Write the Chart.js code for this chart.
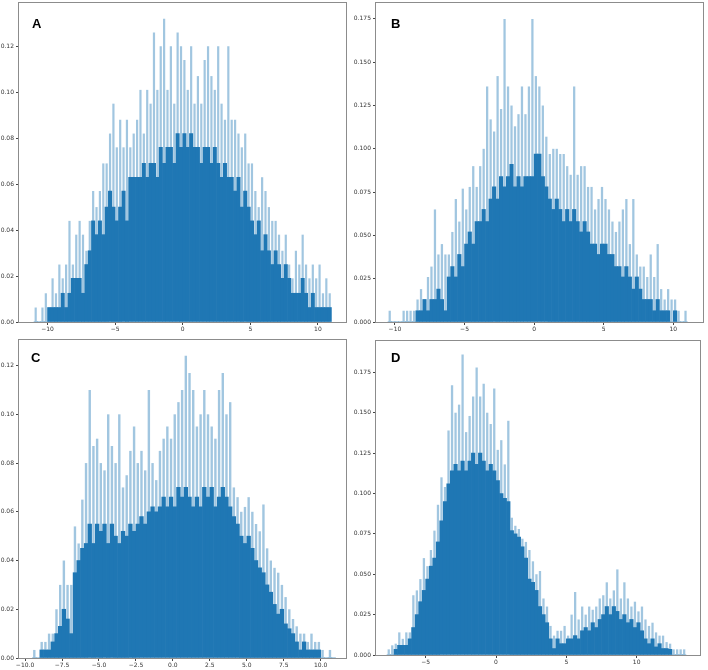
<!DOCTYPE html>
<html>
<head>
<meta charset="utf-8">
<title>Histograms A-D</title>
<script src="https://cdn.jsdelivr.net/npm/chart.js@4.4.1/dist/chart.umd.min.js"></script>
<style>
  html, body { margin: 0; padding: 0; background: #fff; }
  #wrap { position: relative; width: 708px; height: 670px; }
  #wrap canvas { position: absolute; left: 0; top: 0; }
</style>
</head>
<body>
<div id="wrap">
  <canvas id="chartA" width="708" height="670"></canvas>
  <canvas id="chartB" width="708" height="670"></canvas>
  <canvas id="chartC" width="708" height="670"></canvas>
  <canvas id="chartD" width="708" height="670"></canvas>
</div>
<script>
'use strict';

// bin width shared by all four panels
let binWidth = 0.25;

// panel A, first bin starts at -11.0
let startA = -11.0;
let bodyA = [0, 0, 0, 0, 0.0063, 0.0063, 0.0063, 0.0063, 0.0125, 0.0063,
    0.0125, 0.019, 0.019, 0.019, 0.0125, 0.025, 0.031, 0.044, 0.038, 0.044,
    0.038, 0.050, 0.057, 0.050, 0.044, 0.050, 0.057, 0.044, 0.063, 0.063,
    0.063, 0.063, 0.069, 0.063, 0.069, 0.069, 0.063, 0.076, 0.069, 0.076,
    0.076, 0.069, 0.082, 0.076, 0.082, 0.076, 0.082, 0.076, 0.076, 0.069,
    0.076, 0.076, 0.069, 0.076, 0.069, 0.063, 0.069, 0.063, 0.063, 0.057,
    0.063, 0.050, 0.057, 0.050, 0.044, 0.038, 0.044, 0.031, 0.038, 0.031,
    0.025, 0.031, 0.025, 0.019, 0.025, 0.019, 0.0125, 0.0125, 0.0125, 0.019,
    0.0125, 0.0063, 0.0125, 0.0063, 0.0063, 0.0063, 0.0063, 0.0063];
let spikeA = [0.0063, 0, 0.0063, 0.0125, 0.0063, 0.019, 0.0125, 0.025, 0.019, 0.025,
    0.044, 0.025, 0.038, 0.044, 0.038, 0.031, 0.044, 0.057, 0.050, 0.057,
    0.069, 0.069, 0.082, 0.095, 0.076, 0.088, 0.076, 0.088, 0.076, 0.082,
    0.088, 0.101, 0.082, 0.101, 0.095, 0.126, 0.101, 0.120, 0.132, 0.101,
    0.120, 0.095, 0.126, 0.120, 0.114, 0.101, 0.120, 0.095, 0.107, 0.095,
    0.114, 0.120, 0.107, 0.101, 0.120, 0.095, 0.088, 0.120, 0.088, 0.088,
    0.082, 0.076, 0.082, 0.069, 0.069, 0.057, 0.050, 0.063, 0.057, 0.050,
    0.044, 0.044, 0.038, 0.031, 0.038, 0.025, 0.019, 0.031, 0.025, 0.038,
    0.025, 0.019, 0.025, 0.019, 0.025, 0.0125, 0.019, 0.0125];
let xTicksA = [-10, -5, 0, 5, 10];
let yTicksA = [0, 0.02, 0.04, 0.06, 0.08, 0.10, 0.12];

// panel B, first bin starts at -10.5
let startB = -10.5;
let bodyB = [0, 0, 0, 0, 0, 0, 0, 0, 0.0065, 0.0065,
    0.013, 0.0065, 0.013, 0.013, 0.019, 0.013, 0.0065, 0.026, 0.032, 0.026,
    0.039, 0.032, 0.045, 0.052, 0.045, 0.058, 0.058, 0.065, 0.058, 0.071,
    0.078, 0.071, 0.084, 0.078, 0.084, 0.091, 0.078, 0.084, 0.078, 0.084,
    0.084, 0.084, 0.097, 0.097, 0.084, 0.078, 0.071, 0.065, 0.071, 0.065,
    0.058, 0.065, 0.058, 0.065, 0.058, 0.052, 0.058, 0.052, 0.045, 0.045,
    0.039, 0.045, 0.045, 0.039, 0.039, 0.032, 0.032, 0.026, 0.032, 0.026,
    0.019, 0.026, 0.019, 0.013, 0.013, 0.013, 0.0065, 0.013, 0.0065, 0.0065,
    0.0065, 0, 0.0065, 0, 0, 0];
let spikeB = [0.0065, 0, 0, 0, 0.0065, 0.0065, 0.0065, 0.0065, 0.013, 0.019,
    0.013, 0.026, 0.032, 0.065, 0.039, 0.045, 0.039, 0.039, 0.052, 0.071,
    0.058, 0.077, 0.065, 0.078, 0.090, 0.078, 0.090, 0.100, 0.136, 0.117,
    0.110, 0.142, 0.123, 0.175, 0.136, 0.125, 0.113, 0.120, 0.136, 0.120,
    0.136, 0.175, 0.142, 0.136, 0.125, 0.107, 0.097, 0.100, 0.100, 0.097,
    0.097, 0.090, 0.085, 0.136, 0.085, 0.090, 0.090, 0.078, 0.078, 0.065,
    0.071, 0.078, 0.071, 0.065, 0.058, 0.052, 0.058, 0.065, 0.071, 0.045,
    0.071, 0.039, 0.032, 0.032, 0.026, 0.039, 0.026, 0.045, 0.019, 0.013,
    0.019, 0.013, 0.013, 0.0065, 0, 0.0065];
let xTicksB = [-10, -5, 0, 5, 10];
let yTicksB = [0, 0.025, 0.05, 0.075, 0.1, 0.125, 0.15, 0.175];

// panel C, first bin starts at -9.5
let startC = -9.5;
let bodyC = [0, 0, 0.0033, 0.0033, 0.0033, 0.0066, 0.010, 0.013, 0.020, 0.016,
    0.010, 0.035, 0.040, 0.045, 0.047, 0.055, 0.047, 0.055, 0.052, 0.055,
    0.047, 0.055, 0.050, 0.047, 0.052, 0.050, 0.055, 0.052, 0.055, 0.058,
    0.055, 0.060, 0.062, 0.060, 0.062, 0.066, 0.062, 0.066, 0.062, 0.070,
    0.066, 0.070, 0.066, 0.062, 0.066, 0.062, 0.070, 0.066, 0.070, 0.062,
    0.066, 0.070, 0.066, 0.062, 0.058, 0.055, 0.050, 0.047, 0.050, 0.045,
    0.040, 0.037, 0.035, 0.030, 0.027, 0.022, 0.018, 0.020, 0.014, 0.012,
    0.010, 0.0066, 0.0033, 0.0066, 0.0033, 0.0033, 0.0033, 0.0033, 0, 0,
    0, 0];
let spikeC = [0.0033, 0, 0.0066, 0.0066, 0.010, 0.010, 0.020, 0.030, 0.040, 0.030,
    0.030, 0.054, 0.047, 0.065, 0.080, 0.110, 0.087, 0.090, 0.080, 0.077,
    0.100, 0.087, 0.080, 0.100, 0.070, 0.075, 0.085, 0.095, 0.080, 0.085,
    0.077, 0.110, 0.080, 0.073, 0.085, 0.090, 0.095, 0.090, 0.100, 0.105,
    0.110, 0.124, 0.117, 0.110, 0.095, 0.100, 0.110, 0.100, 0.095, 0.090,
    0.110, 0.117, 0.100, 0.105, 0.070, 0.066, 0.060, 0.062, 0.066, 0.060,
    0.055, 0.052, 0.063, 0.045, 0.040, 0.037, 0.035, 0.030, 0.025, 0.020,
    0.016, 0.013, 0.010, 0.010, 0.0066, 0.010, 0.0066, 0.0066, 0.0033, 0,
    0.0033, 0];
let xTicksC = [-10, -7.5, -5, -2.5, 0, 2.5, 5, 7.5, 10];
let yTicksC = [0, 0.02, 0.04, 0.06, 0.08, 0.10, 0.12];

// panel D, first bin starts at -7.75
let startD = -7.75;
let bodyD = [0, 0, 0.0035, 0.006, 0.006, 0.006, 0.010, 0.017, 0.025, 0.033,
    0.040, 0.047, 0.055, 0.060, 0.070, 0.083, 0.095, 0.106, 0.114, 0.118,
    0.114, 0.120, 0.114, 0.120, 0.125, 0.118, 0.125, 0.120, 0.114, 0.118,
    0.114, 0.108, 0.100, 0.097, 0.095, 0.077, 0.075, 0.073, 0.067, 0.060,
    0.047, 0.045, 0.040, 0.030, 0.025, 0.020, 0.010, 0.004, 0.010, 0.007,
    0.007, 0.010, 0.010, 0.012, 0.010, 0.015, 0.017, 0.015, 0.020, 0.017,
    0.022, 0.025, 0.030, 0.025, 0.030, 0.027, 0.022, 0.025, 0.020, 0.022,
    0.017, 0.020, 0.015, 0.010, 0.007, 0.010, 0.005, 0.007, 0.004, 0.004,
    0.0035, 0, 0, 0, 0];
let spikeD = [0.0035, 0.006, 0.007, 0.014, 0.010, 0.014, 0.014, 0.037, 0.040, 0.047,
    0.060, 0.055, 0.065, 0.077, 0.093, 0.110, 0.104, 0.139, 0.167, 0.150,
    0.155, 0.186, 0.138, 0.148, 0.160, 0.178, 0.160, 0.168, 0.150, 0.143,
    0.165, 0.127, 0.133, 0.118, 0.145, 0.085, 0.080, 0.078, 0.072, 0.070,
    0.065, 0.058, 0.050, 0.052, 0.035, 0.030, 0.018, 0.012, 0.015, 0.015,
    0.018, 0.012, 0.025, 0.039, 0.022, 0.030, 0.025, 0.030, 0.028, 0.030,
    0.035, 0.037, 0.045, 0.035, 0.040, 0.053, 0.035, 0.045, 0.035, 0.030,
    0.033, 0.027, 0.030, 0.022, 0.018, 0.020, 0.014, 0.012, 0.012, 0.008,
    0.007, 0.0035, 0.0035, 0.0035, 0.0035];
let xTicksD = [-5, 0, 5, 10];
let yTicksD = [0, 0.025, 0.05, 0.075, 0.1, 0.125, 0.15, 0.175];

Chart.defaults.font.family = '"DejaVu Sans", sans-serif';
Chart.defaults.font.size = 6;
Chart.defaults.color = '#333';

// frame round the plot area + the panel letter
let framePlugin = {
    id: 'frame',
    afterDraw(chart, args, opts) {
        let ctx = chart.ctx;
        let a = chart.chartArea;
        ctx.save();
        ctx.strokeStyle = '#8c8c8c';
        ctx.lineWidth = 1;
        ctx.strokeRect(a.left - 0.5, a.top - 0.5, a.right - a.left + 1, a.bottom - a.top + 1);
        ctx.fillStyle = '#000';
        ctx.font = 'bold 13px "Liberation Sans", Arial, sans-serif';
        ctx.textBaseline = 'alphabetic';
        ctx.fillText(opts.letter, a.left + opts.dx, a.top + opts.dy);
        ctx.restore();
    }
};

function fmt(v, digits) {
    let s = Math.abs(v).toFixed(digits);
    return (v < 0 ? '\u2212' : '') + s;
}

function toPoints(start, values) {
    let pts = [];
    for (let i = 0; i < values.length; i++) {
        pts.push({ x: start + binWidth * i + binWidth / 2, y: values[i] });
    }
    return pts;
}

function drawPanel(p) {
    let ctx = document.getElementById(p.id).getContext('2d');
    return new Chart(ctx, {
        type: 'bar',
        data: {
            datasets: [{
                data: toPoints(p.start, p.body),
                backgroundColor: '#1f77b4',
                borderWidth: 0,
                barPercentage: 1,
                categoryPercentage: 1,
                grouped: false,
                order: 0
            }, {
                data: toPoints(p.start, p.spike),
                backgroundColor: 'rgba(31, 119, 180, 0.42)',
                borderWidth: 0,
                barPercentage: 0.65,
                categoryPercentage: 1,
                grouped: false,
                order: 1
            }]
        },
        options: {
            responsive: false,
            animation: false,
            events: [],
            layout: {
                padding: {
                    left: p.area.left - p.yW,
                    top: p.area.top,
                    right: 708 - p.area.right,
                    bottom: 670 - p.area.bottom - p.xH
                }
            },
            plugins: {
                legend: { display: false },
                tooltip: { enabled: false },
                frame: { letter: p.letter, dx: p.dx, dy: p.dy }
            },
            scales: {
                x: {
                    type: 'linear',
                    min: p.xMin,
                    max: p.xMax,
                    offset: false,
                    grid: { display: true, drawOnChartArea: false, offset: false, tickLength: 3, color: '#444' },
                    border: { display: false },
                    ticks: {
                        padding: 1,
                        maxRotation: 0,
                        autoSkip: false,
                        callback: function (v) { return fmt(v, p.xDigits); }
                    },
                    afterBuildTicks: function (scale) {
                        scale.ticks = p.xTicks.map(function (v) { return { value: v }; });
                    },
                    afterFit: function (scale) {
                        scale.height = p.xH;
                        scale.paddingLeft = 0;
                        scale.paddingRight = 0;
                    }
                },
                y: {
                    min: 0,
                    max: p.yMax,
                    grid: { display: true, drawOnChartArea: false, tickLength: 3, color: '#444' },
                    border: { display: false },
                    ticks: {
                        padding: 2,
                        autoSkip: false,
                        callback: function (v) { return fmt(v, p.yDigits); }
                    },
                    afterBuildTicks: function (scale) {
                        scale.ticks = p.yTicks.map(function (v) { return { value: v }; });
                    },
                    afterFit: function (scale) {
                        scale.width = p.yW;
                        scale.paddingTop = 0;
                        scale.paddingBottom = 0;
                    }
                }
            }
        },
        plugins: [framePlugin]
    });
}

drawPanel({
    id: 'chartA', letter: 'A', dx: 13, dy: 25,
    start: startA, body: bodyA, spike: spikeA, xTicks: xTicksA, yTicks: yTicksA,
    area: { left: 19, top: 3, right: 346, bottom: 322 }, yW: 19, xH: 13,
    xMin: -12.11, xMax: 12.08, yMax: 0.1388, xDigits: 0, yDigits: 2
});
drawPanel({
    id: 'chartB', letter: 'B', dx: 15, dy: 25,
    start: startB, body: bodyB, spike: spikeB, xTicks: xTicksB, yTicks: yTicksB,
    area: { left: 376, top: 3, right: 703, bottom: 322 }, yW: 22, xH: 13,
    xMin: -11.36, xMax: 12.13, yMax: 0.1842, xDigits: 0, yDigits: 3
});
drawPanel({
    id: 'chartC', letter: 'C', dx: 12, dy: 22,
    start: startC, body: bodyC, spike: spikeC, xTicks: xTicksC, yTicks: yTicksC,
    area: { left: 19, top: 340, right: 346, bottom: 658 }, yW: 19, xH: 12,
    xMin: -10.41, xMax: 11.71, yMax: 0.1305, xDigits: 1, yDigits: 2
});
drawPanel({
    id: 'chartD', letter: 'D', dx: 15, dy: 21,
    start: startD, body: bodyD, spike: spikeD, xTicks: xTicksD, yTicks: yTicksD,
    area: { left: 376, top: 341, right: 700, bottom: 655 }, yW: 22, xH: 14,
    xMin: -8.53, xMax: 14.5, yMax: 0.1944, xDigits: 0, yDigits: 3
});
</script>
</body>
</html>
